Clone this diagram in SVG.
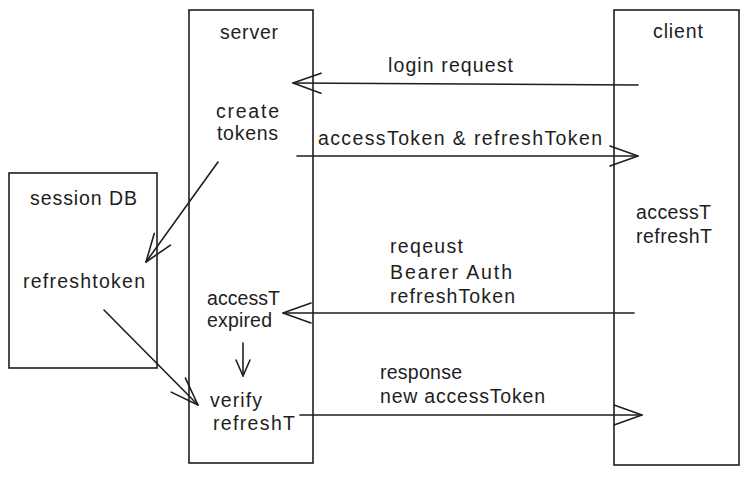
<svg xmlns="http://www.w3.org/2000/svg" width="749" height="477" viewBox="0 0 749 477">
<defs>
<style>
.box{fill:none;stroke:#1e1e1e;stroke-width:1.6}
.ln{fill:none;stroke:#1e1e1e;stroke-width:1.6;stroke-linecap:round;stroke-linejoin:round}
text{font-family:"Liberation Sans",Arial,sans-serif;font-size:19.5px;fill:#1e1e1e}
</style>
<marker id="ah" markerUnits="userSpaceOnUse" markerWidth="60" markerHeight="60" viewBox="-40 -20 60 40" refX="0" refY="0" orient="auto" overflow="visible">
<path d="M-28,-10 L0,0 L-28,10" fill="none" stroke="#1e1e1e" stroke-width="1.6" stroke-linecap="round" stroke-linejoin="round"/>
</marker>
<marker id="ahs" markerUnits="userSpaceOnUse" markerWidth="40" markerHeight="40" viewBox="-20 -10 40 20" refX="0" refY="0" orient="auto" overflow="visible">
<path d="M-16,-7 L0,0 L-16,7" fill="none" stroke="#1e1e1e" stroke-width="1.6" stroke-linecap="round" stroke-linejoin="round"/>
</marker>
</defs>
<rect width="749" height="477" fill="#ffffff"/>

<g id="server">
<rect class="box" x="189" y="10" width="124" height="453"/>
<text x="220" y="39" textLength="58">server</text>
<text x="216" y="118" textLength="63">create</text>
<text x="217" y="140" textLength="61">tokens</text>
<text x="207" y="305" textLength="73">accessT</text>
<text x="207" y="327" textLength="65">expired</text>
<text x="210" y="407" textLength="52">verify</text>
<text x="213" y="430" textLength="82">refreshT</text>
</g>

<g id="client">
<rect class="box" x="614" y="10" width="125" height="455"/>
<text x="653" y="38" textLength="50">client</text>
<text x="636" y="219" textLength="75">accessT</text>
<text x="636" y="243" textLength="76">refreshT</text>
</g>

<g id="session-db">
<rect class="box" x="9" y="173" width="148" height="195"/>
<text x="30" y="205" textLength="107">session DB</text>
<text x="23" y="288" textLength="122">refreshtoken</text>
</g>

<g id="connectors">
<line class="ln" x1="638" y1="85" x2="293" y2="83" marker-end="url(#ah)"/>
<line class="ln" x1="297" y1="156" x2="638" y2="156" marker-end="url(#ah)"/>
<line class="ln" x1="634" y1="313" x2="283" y2="313" marker-end="url(#ah)"/>
<line class="ln" x1="300" y1="415" x2="642" y2="415" marker-end="url(#ah)"/>
<line class="ln" x1="218" y1="162" x2="146" y2="262" marker-end="url(#ah)"/>
<line class="ln" x1="104" y1="310" x2="198" y2="405" marker-end="url(#ah)"/>
<line class="ln" x1="243" y1="343" x2="243" y2="376" marker-end="url(#ahs)"/>
<text x="388" y="72" textLength="125">login request</text>
<text x="318" y="145" textLength="284">accessToken &amp; refreshToken</text>
<text x="390" y="253" textLength="73">reqeust</text>
<text x="390" y="279" textLength="122">Bearer Auth</text>
<text x="390" y="303" textLength="125">refreshToken</text>
<text x="380" y="379" textLength="82">response</text>
<text x="380" y="403" textLength="165">new accessToken</text>
</g>
</svg>
